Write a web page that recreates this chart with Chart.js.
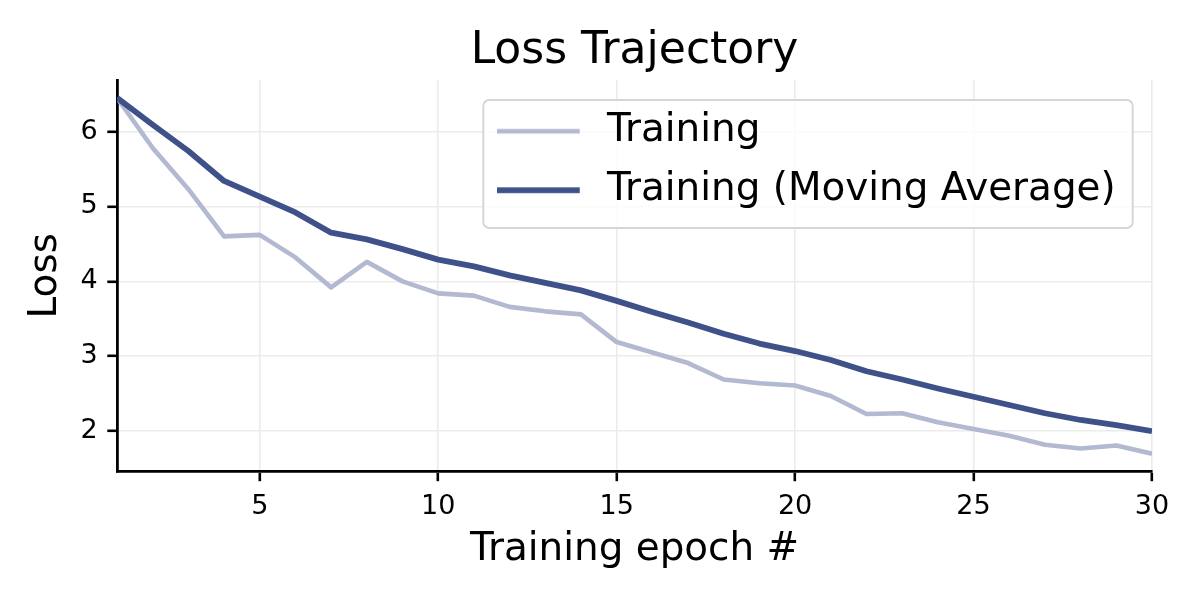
<!DOCTYPE html>
<html>
<head>
<meta charset="utf-8">
<script src="https://cdn.jsdelivr.net/npm/chart.js@4.4.1/dist/chart.umd.min.js"></script>
<style>
  html, body { margin: 0; padding: 0; background: #ffffff; }
  #wrap { width: 1200px; height: 600px; }
  canvas { display: block; }
</style>
</head>
<body>
<div id="wrap"><canvas id="chart" width="1200" height="600" style="width:1200px;height:600px"></canvas></div>
<script>
// ---- data ----
const epochs = [1, 2, 3, 4, 5, 6, 7, 8, 9, 10, 11, 12, 13, 14, 15, 16, 17, 18, 19, 20, 21, 22, 23, 24, 25, 26, 27, 28, 29, 30];
const trainingLoss = [6.45, 5.78, 5.23, 4.60, 4.62, 4.32, 3.92, 4.26, 4.00, 3.84, 3.81, 3.66, 3.60, 3.56, 3.19, 3.05, 2.91, 2.69, 2.64, 2.61, 2.47, 2.23, 2.24, 2.12, 2.03, 1.94, 1.82, 1.77, 1.81, 1.70];
const movingAvgLoss = [6.45, 6.09, 5.74, 5.34, 5.13, 4.92, 4.65, 4.56, 4.43, 4.29, 4.20, 4.08, 3.98, 3.88, 3.74, 3.59, 3.45, 3.30, 3.17, 3.07, 2.95, 2.80, 2.69, 2.57, 2.46, 2.35, 2.24, 2.15, 2.08, 2.00];
const seriesLabels = ['Training', 'Training (Moving Average)'];
const xTickValues = [5, 10, 15, 20, 25, 30];
const yTickValues = [2, 3, 4, 5, 6];
const chartTitle = 'Loss Trajectory';
const xAxisTitle = 'Training epoch #';
const yAxisTitle = 'Loss';

// ---- styles ----
const FONT = 'DejaVu Sans';
const colorLight = '#b2b9d0';
const colorDark = '#3f5189';
const gridColor = '#ebebeb';

const allVals = trainingLoss.concat(movingAvgLoss);
const dMin = Math.min(...allVals), dMax = Math.max(...allVals);
const yMargin = (dMax - dMin) * 0.05;

function toPoints(ys) { return epochs.map((x, i) => ({ x: x, y: ys[i] })); }

function makeSwatch(color, thickness) {
  const c = document.createElement('canvas');
  c.width = 91; c.height = 10;
  const g = c.getContext('2d');
  g.fillStyle = color;
  g.fillRect(0, 5 - thickness / 2, 83, thickness);
  return c;
}

const legendFrame = {
  id: 'legendFrame',
  afterLayout(chart) {
    const lg = chart.legend, ca = chart.chartArea;
    if (!lg) return;
    const fl = ca.left + 366.3;
    const ft = ca.top + 20;
    lg.left = fl - 6.4;
    lg.right = lg.left + lg.width;
    lg.top = ft - 8.35;
    lg.bottom = lg.top + lg.height;
    if (!lg._framePatched) {
      const orig = lg.draw;
      lg.draw = function () {
        const c = chart.ctx, a = chart.chartArea;
        const x0 = a.left + 366.3, y0 = a.top + 20;
        const x1 = a.right - 19.3, y1 = a.top + 148;
        c.save();
        c.beginPath();
        c.roundRect(x0, y0, x1 - x0, y1 - y0, 6);
        c.fillStyle = 'rgba(255,255,255,0.85)';
        c.fill();
        c.lineWidth = 2;
        c.strokeStyle = '#d6d6d6';
        c.stroke();
        c.restore();
        return orig.apply(this, arguments);
      };
      lg._framePatched = true;
    }
  }
};

new Chart(document.getElementById('chart'), {
  type: 'line',
  data: {
    datasets: [
      {
        label: seriesLabels[0],
        data: toPoints(trainingLoss),
        borderColor: colorLight,
        backgroundColor: colorLight,
        borderWidth: 4.6,
        pointRadius: 0,
        tension: 0,
        borderJoinStyle: 'round',
        order: 2
      },
      {
        label: seriesLabels[1],
        data: toPoints(movingAvgLoss),
        borderColor: colorDark,
        backgroundColor: colorDark,
        borderWidth: 5.8,
        pointRadius: 0,
        tension: 0,
        borderJoinStyle: 'round',
        order: 1
      }
    ]
  },
  options: {
    responsive: false,
    animation: false,
    devicePixelRatio: 1,
    layout: { padding: { left: 0, right: 48, top: 0, bottom: 0 } },
    interaction: { mode: 'nearest', intersect: false },
    plugins: {
      tooltip: { enabled: false },
      title: {
        display: true,
        text: chartTitle,
        fullSize: false,
        color: '#000',
        font: { family: FONT, size: 44, weight: 'normal' },
        padding: { top: 25.4, bottom: 1.8 }
      },
      legend: {
        display: true,
        position: 'chartArea',
        align: 'start',
        labels: {
          color: '#000',
          font: { family: FONT, size: 38.9, weight: 'normal' },
          usePointStyle: true,
          pointStyleWidth: 90.5,
          padding: 20.1,
          textAlign: 'left',
          sort: (a, b) => a.datasetIndex - b.datasetIndex,
          generateLabels(chart) {
            return chart.data.datasets.map((ds, i) => ({
              text: ds.label,
              fillStyle: ds.borderColor,
              strokeStyle: ds.borderColor,
              lineWidth: 0,
              pointStyle: makeSwatch(ds.borderColor, ds.borderWidth),
              hidden: false,
              datasetIndex: i,
              fontColor: '#000'
            }));
          }
        }
      }
    },
    scales: {
      x: {
        type: 'linear',
        min: epochs[0],
        max: epochs[epochs.length - 1],
        afterBuildTicks(scale) { scale.ticks = xTickValues.map(v => ({ value: v })); },
        afterFit(scale) { scale.height = 128.5; },
        ticks: {
          color: '#000',
          font: { family: FONT, size: 27 },
          padding: 9.7,
          maxRotation: 0,
          autoSkip: false,
          callback: (v) => String(v)
        },
        grid: {
          color: gridColor,
          lineWidth: 1.6,
          drawTicks: true,
          tickLength: 9.7,
          tickColor: '#000',
          tickWidth: 2.6
        },
        border: { display: true, color: '#000', width: 2.8 },
        title: {
          display: true,
          text: xAxisTitle,
          color: '#000',
          font: { family: FONT, size: 38.9, weight: 'normal' },
          padding: { top: 0, bottom: 27 }
        }
      },
      y: {
        type: 'linear',
        min: dMin - yMargin,
        max: dMax + yMargin,
        afterBuildTicks(scale) { scale.ticks = yTickValues.map(v => ({ value: v })); },
        afterFit(scale) { scale.width = 117; },
        ticks: {
          color: '#000',
          font: { family: FONT, size: 27 },
          padding: 9.7,
          autoSkip: false,
          callback: (v) => String(v)
        },
        grid: {
          color: gridColor,
          lineWidth: 1.6,
          drawTicks: true,
          tickLength: 9.7,
          tickColor: '#000',
          tickWidth: 2.6
        },
        border: { display: true, color: '#000', width: 2.8 },
        title: {
          display: true,
          text: yAxisTitle,
          color: '#000',
          font: { family: FONT, size: 38.9, weight: 'normal' },
          padding: { top: 23, bottom: 0 }
        }
      }
    }
  },
  plugins: [legendFrame]
});
</script>
</body>
</html>
